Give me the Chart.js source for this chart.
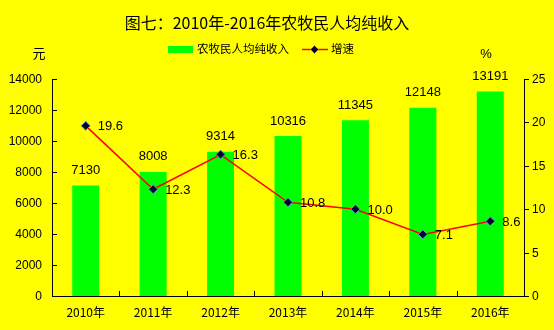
<!DOCTYPE html>
<html>
<head>
<meta charset="utf-8">
<script src="https://cdn.jsdelivr.net/npm/chart.js@4"></script>
<style>
  html, body { margin: 0; padding: 0; background: #ffff00; }
  #wrap { width: 554px; height: 330px; position: relative; }
</style>
</head>
<body>
<div id="wrap"><canvas id="c" width="554" height="330"></canvas></div>
<script>
// 农牧民人均纯收入（元）及增速（%）
const years   = ['2010年', '2011年', '2012年', '2013年', '2014年', '2015年', '2016年'];
const income  = [7130, 8008, 9314, 10316, 11345, 12148, 13191];
const growth  = [19.6, 12.3, 16.3, 10.8, 10.0, 7.1, 8.6];
const leftTicks  = [0, 2000, 4000, 6000, 8000, 10000, 12000, 14000];
const rightTicks = [0, 5, 10, 15, 20, 25];

const TITLE   = '图七：2010年-2016年农牧民人均纯收入';
const LATIN   = '"Liberation Sans", Arial, sans-serif';
const CJK     = '"Noto Sans CJK SC", "Liberation Sans", sans-serif';
const GREEN   = '#00ff00';
const RED     = '#ff0000';

// axes, ticks, title, legend and value labels
const decor = {
  id: 'decor',
  afterDatasetsDraw(chart) {
    const { ctx, chartArea: a, scales } = chart;
    const x = scales.x, y = scales.y, y1 = scales.y1;
    ctx.save();
    ctx.strokeStyle = '#000';
    ctx.lineWidth = 1;

    // axis lines
    ctx.beginPath();
    ctx.moveTo(a.left + 0.5, a.top);
    ctx.lineTo(a.left + 0.5, a.bottom + 0.5);
    ctx.lineTo(a.right + 0.5, a.bottom + 0.5);
    ctx.lineTo(a.right + 0.5, a.top);
    ctx.stroke();

    // left ticks (inside) and labels
    ctx.fillStyle = '#000';
    ctx.font = '12px ' + LATIN;
    ctx.textAlign = 'right';
    ctx.textBaseline = 'middle';
    leftTicks.forEach(v => {
      const py = Math.round(y.getPixelForValue(v)) + 0.5;
      ctx.beginPath();
      ctx.moveTo(a.left, py); ctx.lineTo(a.left + 5, py); ctx.stroke();
      ctx.fillText(String(v), a.left - 10, py);
    });

    // right ticks (outside) and labels
    ctx.textAlign = 'left';
    rightTicks.forEach(v => {
      const py = Math.round(y1.getPixelForValue(v)) + 0.5;
      ctx.beginPath();
      ctx.moveTo(a.right, py); ctx.lineTo(a.right + 5, py); ctx.stroke();
      ctx.fillText(String(v), a.right + 8, py);
    });

    // category ticks (inside, on boundaries) and labels
    const step = (a.right - a.left) / years.length;
    for (let i = 1; i < years.length; i++) {
      const px = Math.round(a.left + step * i) + 0.5;
      ctx.beginPath();
      ctx.moveTo(px, a.bottom); ctx.lineTo(px, a.bottom - 5); ctx.stroke();
    }
    ctx.textAlign = 'center';
    ctx.font = '12px ' + CJK;
    years.forEach((t, i) => ctx.fillText(t, x.getPixelForValue(i), a.bottom + 16));

    // bar values
    ctx.font = '13px ' + LATIN;
    chart.getDatasetMeta(0).data.forEach((bar, i) => {
      ctx.fillText(String(income[i]), bar.x, bar.y - 15);
    });

    // growth values
    ctx.textAlign = 'left';
    chart.getDatasetMeta(1).data.forEach((pt, i) => {
      ctx.fillText(growth[i].toFixed(1), pt.x + 12, pt.y + 1);
    });

    // title
    ctx.textAlign = 'center';
    ctx.font = '16px ' + CJK;
    ctx.fillText(TITLE, 267, 23);

    // axis units
    ctx.font = '13px ' + CJK;
    ctx.fillText('元', 39, 53);
    ctx.font = '13px ' + LATIN;
    ctx.fillText('%', 486, 54);

    // legend
    ctx.fillStyle = GREEN;
    ctx.fillRect(168, 46, 25, 7);
    ctx.fillStyle = '#000';
    ctx.textAlign = 'left';
    ctx.font = '11.5px ' + CJK;
    ctx.fillText('农牧民人均纯收入', 197, 49);
    ctx.strokeStyle = RED;
    ctx.lineWidth = 1.5;
    ctx.beginPath();
    ctx.moveTo(302, 49.5); ctx.lineTo(328, 49.5); ctx.stroke();
    drawDiamond(ctx, 314.5, 49.5, 4);
    ctx.fillStyle = '#000';
    ctx.fillText('增速', 331, 49);
    ctx.restore();
  }
};

function drawDiamond(ctx, cx, cy, r) {
  ctx.save();
  ctx.beginPath();
  ctx.moveTo(cx, cy - r); ctx.lineTo(cx + r, cy);
  ctx.lineTo(cx, cy + r); ctx.lineTo(cx - r, cy);
  ctx.closePath();
  ctx.fillStyle = '#000033';
  ctx.fill();
  ctx.strokeStyle = '#6699cc';
  ctx.lineWidth = 1;
  ctx.stroke();
  ctx.restore();
}

new Chart(document.getElementById('c'), {
  data: {
    labels: years,
    datasets: [
      {
        type: 'bar',
        data: income,
        yAxisID: 'y',
        backgroundColor: GREEN,
        borderWidth: 0,
        categoryPercentage: 1,
        barPercentage: 0.4,
        order: 2,
      },
      {
        type: 'line',
        data: growth,
        yAxisID: 'y1',
        borderColor: RED,
        borderWidth: 1.5,
        tension: 0,
        pointStyle: 'rectRot',
        pointRadius: 4.5,
        pointBackgroundColor: '#000033',
        pointBorderColor: '#6699cc',
        pointBorderWidth: 1,
        order: 1,
      },
    ],
  },
  options: {
    responsive: false,
    animation: false,
    devicePixelRatio: 1,
    layout: { padding: { top: 79, left: 52, right: 30, bottom: 34 } },
    plugins: { legend: { display: false }, tooltip: { enabled: false } },
    scales: {
      x: { display: false, offset: true, grid: { display: false } },
      y: {
        display: false, position: 'left', min: 0, max: 14000,
      },
      y1: {
        display: false, position: 'right', min: 0, max: 25,
      },
    },
  },
  plugins: [decor],
});
</script>
</body>
</html>
